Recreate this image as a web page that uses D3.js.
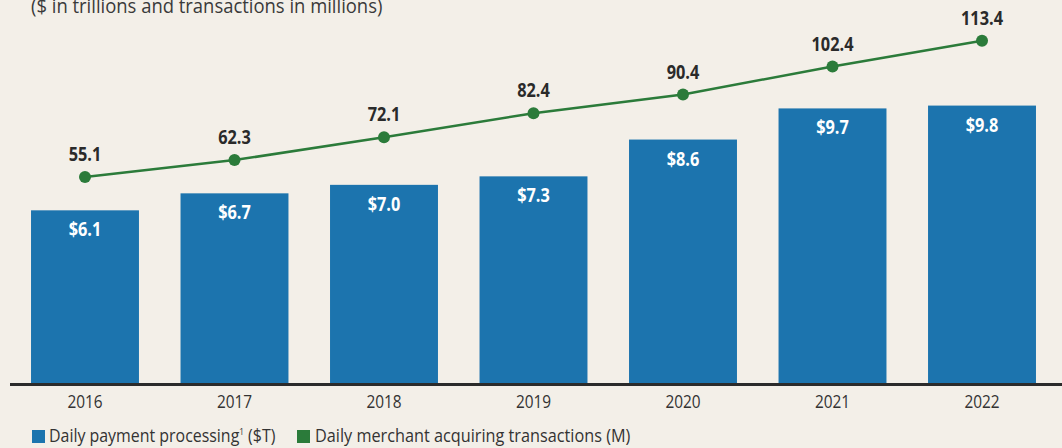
<!DOCTYPE html>
<html>
<head>
<meta charset="utf-8">
<script src="https://d3js.org/d3.v7.min.js"></script>
<style>
  body { margin: 0; background: #f3efe8; }
  svg { display: block; font-family: "Open Sans", sans-serif; }
</style>
</head>
<body>
<div id="chart"></div>
<script>
// data
var years = ["2016", "2017", "2018", "2019", "2020", "2021", "2022"];
var paymentProcessing = [6.1, 6.7, 7.0, 7.3, 8.6, 9.7, 9.8];             // $T
var merchantTransactions = [55.1, 62.3, 72.1, 82.4, 90.4, 102.4, 113.4]; // M

var width = 1062, height = 448;
var baseline = 383;
var blue = "#1c74ae", green = "#2b7b3a";

var svg = d3.select("#chart").append("svg")
  .attr("width", width)
  .attr("height", height);

svg.append("rect").attr("width", width).attr("height", height).attr("fill", "#f3efe8");

// the reference font is a bit narrower than Open Sans, so squeeze text horizontally
function squeezed(parent, x, y, sx) {
  return parent.append("g")
    .attr("transform", "translate(" + x + "," + y + ") scale(" + sx + ",1)")
    .append("text");
}

// subtitle (cut off at the top)
squeezed(svg, 31, 13, 0.945)
  .attr("font-size", 19.5)
  .attr("fill", "#3a3a3a")
  .text("($ in trillions and transactions in millions)");

var x = d3.scaleBand()
  .domain(years)
  .range([8, 1059])
  .paddingInner(0.278)
  .paddingOuter(0.154);

// bars: ~28.3 px per $T
var yBar = d3.scaleLinear().domain([0, 13.53]).range([baseline, 0]);
// line: ~2.333 px per M
var yLine = d3.scaleLinear().domain([0, 130.9]).range([305.5, 0]);

function cx(i) { return x(years[i]) + x.bandwidth() / 2; }

svg.selectAll(".bar")
  .data(paymentProcessing)
  .enter().append("rect")
  .attr("class", "bar")
  .attr("x", function(d, i) { return x(years[i]); })
  .attr("y", function(d) { return yBar(d); })
  .attr("width", x.bandwidth())
  .attr("height", function(d) { return baseline - yBar(d); })
  .attr("fill", blue);

paymentProcessing.forEach(function(d, i) {
  squeezed(svg, cx(i), yBar(d) + 26, 0.86)
    .attr("text-anchor", "middle")
    .attr("font-size", 19)
    .attr("font-weight", "bold")
    .attr("fill", "#ffffff")
    .text("$" + d.toFixed(1));
});

// x axis
var xAxis = svg.append("g")
  .attr("transform", "translate(0," + baseline + ")")
  .call(d3.axisBottom(x).tickSize(0).tickPadding(13));
xAxis.select(".domain").remove();
xAxis.selectAll("text")
  .attr("font-size", 17.5)
  .attr("font-family", "Open Sans, sans-serif")
  .attr("fill", "#333")
  .attr("transform", "scale(0.88,1)");

svg.append("line")
  .attr("x1", 10).attr("x2", width)
  .attr("y1", baseline + 1.5).attr("y2", baseline + 1.5)
  .attr("stroke", "#2b2b2b")
  .attr("stroke-width", 3);

// line series
var line = d3.line()
  .x(function(d, i) { return cx(i); })
  .y(function(d) { return yLine(d); });

svg.append("path")
  .datum(merchantTransactions)
  .attr("d", line)
  .attr("fill", "none")
  .attr("stroke", green)
  .attr("stroke-width", 2.5);

svg.selectAll(".dot")
  .data(merchantTransactions)
  .enter().append("circle")
  .attr("class", "dot")
  .attr("cx", function(d, i) { return cx(i); })
  .attr("cy", function(d) { return yLine(d); })
  .attr("r", 6)
  .attr("fill", green);

merchantTransactions.forEach(function(d, i) {
  squeezed(svg, cx(i), yLine(d) - 16, 0.86)
    .attr("text-anchor", "middle")
    .attr("font-size", 19)
    .attr("font-weight", "bold")
    .attr("fill", "#2a2a2a")
    .text(d.toFixed(1));
});

// legend
svg.append("rect").attr("x", 32).attr("y", 430).attr("width", 13).attr("height", 13).attr("fill", blue);
var t1 = squeezed(svg, 49, 442, 0.91).attr("font-size", 17.5).attr("fill", "#333");
t1.append("tspan").text("Daily payment processing");
t1.append("tspan").attr("dy", -7).attr("font-size", 9).text("1");
t1.append("tspan").attr("dy", 7).text(" ($T)");

svg.append("rect").attr("x", 297).attr("y", 430).attr("width", 13).attr("height", 13).attr("fill", green);
squeezed(svg, 315, 442, 0.93).attr("font-size", 17.5).attr("fill", "#333")
  .text("Daily merchant acquiring transactions (M)");
</script>
</body>
</html>
